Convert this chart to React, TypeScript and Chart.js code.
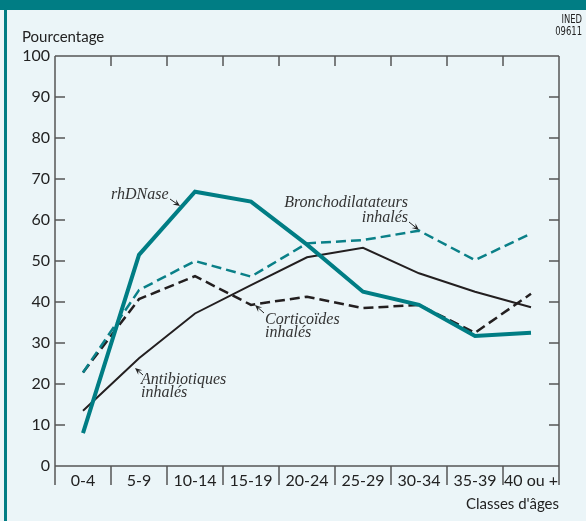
import React, { useEffect, useRef } from "react";
import { Chart, registerables } from "chart.js";

Chart.register(...registerables);

const categories = ["0-4", "5-9", "10-14", "15-19", "20-24", "25-29", "30-34", "35-39", "40 ou +"];
const rhDNase = [8, 51.5, 66.9, 64.5, 54, 42.5, 39.3, 31.7, 32.5];
const bronchodilatateurs = [22.8, 42.9, 50, 46.2, 54.3, 55.1, 57.4, 50.2, 56.7];
const corticoides = [22.8, 40.7, 46.3, 39.3, 41.3, 38.5, 39.3, 32.5, 42];
const antibiotiques = [13.5, 26.3, 37.2, 44.1, 50.9, 53.2, 47, 42.5, 38.7];
const yTicks = [0, 10, 20, 30, 40, 50, 60, 70, 80, 90, 100];

const TEAL = "#007d84";
const BG = "#ebf5f8";
const INK = "#222222";
const AXIS = "#555555";
const SANS = "Lato, 'Noto Sans', sans-serif";
const SERIF = "'Liberation Serif', 'DejaVu Serif', serif";

function arrow(ctx: CanvasRenderingContext2D, x1: number, y1: number, x2: number, y2: number) {
  const ang = Math.atan2(y2 - y1, x2 - x1);
  const len = 7;
  const w = 3;
  ctx.save();
  ctx.strokeStyle = INK;
  ctx.fillStyle = INK;
  ctx.lineWidth = 1;
  ctx.beginPath();
  ctx.moveTo(x1, y1);
  ctx.lineTo(x2 - Math.cos(ang) * len * 0.6, y2 - Math.sin(ang) * len * 0.6);
  ctx.stroke();
  ctx.beginPath();
  ctx.moveTo(x2, y2);
  ctx.lineTo(x2 - Math.cos(ang) * len - Math.sin(ang) * w, y2 - Math.sin(ang) * len + Math.cos(ang) * w);
  ctx.lineTo(x2 - Math.cos(ang) * len * 0.6, y2 - Math.sin(ang) * len * 0.6);
  ctx.lineTo(x2 - Math.cos(ang) * len + Math.sin(ang) * w, y2 - Math.sin(ang) * len - Math.cos(ang) * w);
  ctx.closePath();
  ctx.fill();
  ctx.restore();
}

const backgroundPlugin = {
  id: "bgframe",
  beforeDraw(chart: any) {
    const { ctx, width, height } = chart;
    ctx.save();
    ctx.fillStyle = BG;
    ctx.fillRect(0, 0, width, height);
    ctx.fillStyle = TEAL;
    ctx.fillRect(0, 0, width, 10);
    ctx.fillRect(4, 0, 3, height);
    ctx.restore();
  },
};

const framePlugin = {
  id: "frame",
  afterDraw(chart: any) {
    const { ctx, chartArea } = chart;
    const { left, right, top, bottom } = chartArea;
    const y = chart.scales.y;
    ctx.save();
    ctx.strokeStyle = AXIS;
    ctx.lineWidth = 1.5;
    ctx.beginPath();
    ctx.moveTo(left, top);
    ctx.lineTo(right, top);
    ctx.moveTo(left, top);
    ctx.lineTo(left, bottom + 19);
    ctx.moveTo(right, top);
    ctx.lineTo(right, bottom + 19);
    ctx.moveTo(left, bottom);
    ctx.lineTo(right, bottom);
    yTicks.forEach((v) => {
      if (v === 0 || v === 100) return;
      const py = y.getPixelForValue(v);
      ctx.moveTo(left, py);
      ctx.lineTo(left + 10, py);
      ctx.moveTo(right, py);
      ctx.lineTo(right - 10, py);
    });
    const n = categories.length;
    const step = (right - left) / n;
    for (let i = 1; i < n; i++) {
      const px = left + step * i;
      ctx.moveTo(px, bottom);
      ctx.lineTo(px, bottom + 19);
      ctx.moveTo(px, top);
      ctx.lineTo(px, top + 10);
    }
    ctx.stroke();

    ctx.fillStyle = INK;
    ctx.font = `15px ${SANS}`;
    ctx.textAlign = "left";
    ctx.textBaseline = "alphabetic";
    ctx.fillText("Pourcentage", 22, 42);

    ctx.save();
    ctx.font = `12px 'DejaVu Sans Condensed', 'Liberation Sans', sans-serif`;
    ctx.textAlign = "right";
    ctx.translate(582, 0);
    ctx.scale(0.78, 1);
    ctx.fillText("INED", 0, 23);
    ctx.fillText("09611", 0, 35);
    ctx.restore();

    ctx.fillStyle = "#333333";
    ctx.font = `italic 16px ${SERIF}`;
    ctx.textAlign = "left";
    ctx.fillText("rhDNase", 111, 199);
    arrow(ctx, 170, 199, 180, 206);

    ctx.textAlign = "right";
    ctx.fillText("Bronchodilatateurs", 408, 207);
    ctx.fillText("inhalés", 408, 222);
    arrow(ctx, 409, 222, 419, 230);

    ctx.textAlign = "left";
    ctx.fillText("Corticoïdes", 265, 324);
    ctx.fillText("inhalés", 265, 337);
    arrow(ctx, 264, 313, 255, 305);

    ctx.fillText("Antibiotiques", 141, 384);
    ctx.fillText("inhalés", 141, 397);
    arrow(ctx, 143, 375, 135, 368);
    ctx.restore();
  },
};

export default function App() {
  const ref = useRef<HTMLCanvasElement>(null);
  useEffect(() => {
    if (!ref.current) return;
    const chart = new Chart(ref.current, {
      type: "line",
      data: {
        labels: categories,
        datasets: [
          {
            label: "rhDNase",
            data: rhDNase,
            borderColor: TEAL,
            borderWidth: 4,
            pointRadius: 0,
            tension: 0,
            borderJoinStyle: "miter",
          },
          {
            label: "Bronchodilatateurs inhalés",
            data: bronchodilatateurs,
            borderColor: "#0a8088",
            borderWidth: 2.5,
            borderDash: [10, 5],
            pointRadius: 0,
            tension: 0,
          },
          {
            label: "Corticoïdes inhalés",
            data: corticoides,
            borderColor: "#231f20",
            borderWidth: 2.5,
            borderDash: [10, 5],
            pointRadius: 0,
            tension: 0,
          },
          {
            label: "Antibiotiques inhalés",
            data: antibiotiques,
            borderColor: "#231f20",
            borderWidth: 2,
            pointRadius: 0,
            tension: 0,
          },
        ],
      },
      options: {
        animation: false,
        responsive: false,
        devicePixelRatio: 1,
        layout: { padding: { left: 0, top: 56, right: 27, bottom: 0 } },
        plugins: {
          legend: { display: false },
          tooltip: { enabled: false },
        },
        scales: {
          x: {
            type: "category",
            offset: true,
            grid: { display: false, drawTicks: false },
            border: { display: false },
            ticks: {
              color: INK,
              font: { family: SANS, size: 16 },
              padding: 5,
              maxRotation: 0,
              autoSkip: false,
            },
            title: {
              display: true,
              text: "Classes d'âges",
              align: "end",
              color: INK,
              font: { family: SANS, size: 15 },
              padding: { top: 0, bottom: 8 },
            },
            afterFit: (s: any) => {
              s.height = 55;
            },
          },
          y: {
            min: 0,
            max: 100,
            grid: { display: false, drawTicks: false },
            border: { display: false },
            ticks: {
              stepSize: 10,
              color: INK,
              font: { family: SANS, size: 16 },
              padding: 5,
            },
            afterFit: (s: any) => {
              s.width = 55;
            },
          },
        },
      },
      plugins: [backgroundPlugin, framePlugin],
    } as any);
    return () => chart.destroy();
  }, []);
  return (
    <div style={{ position: "absolute", left: 0, top: 0, width: 586, height: 521 }}>
      <canvas ref={ref} width={586} height={521} style={{ width: 586, height: 521, display: "block" }} />
    </div>
  );
}
